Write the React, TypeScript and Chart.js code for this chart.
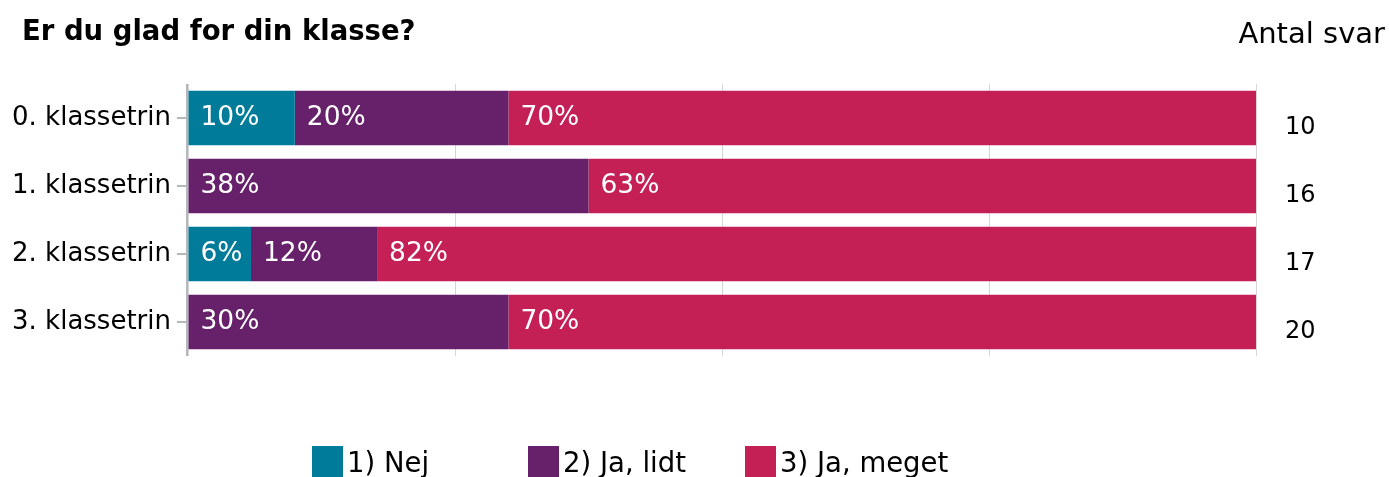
import React, { useEffect, useRef } from "react";
import { Chart, registerables } from "chart.js";

Chart.register(...registerables);

const categories = ["0. klassetrin", "1. klassetrin", "2. klassetrin", "3. klassetrin"];
const nejPct = [10, 0, 5.9, 0];
const lidtPct = [20, 37.5, 11.8, 30];
const megetPct = [70, 62.5, 82.3, 70];
const antalSvar = [10, 16, 17, 20];
const seriesNames = ["1) Nej", "2) Ja, lidt", "3) Ja, meget"];
const seriesColors = ["#007B9A", "#67206A", "#C42056"];
const titleText = "Er du glad for din klasse?";
const countHeader = "Antal svar";

const FONT = "'DejaVu Sans', Verdana, sans-serif";

const overlayPlugin = {
  id: "overlay",
  afterDatasetsDraw(chart: any) {
    const { ctx, chartArea } = chart;
    const yScale = chart.scales.y;
    ctx.save();
    // title
    ctx.fillStyle = "#000";
    ctx.font = `bold 27.5px ${FONT}`;
    ctx.textAlign = "left";
    ctx.textBaseline = "alphabetic";
    ctx.fillText(titleText, 22, 40);
    ctx.font = `29px ${FONT}`;
    ctx.textAlign = "right";
    ctx.fillText(countHeader, 1385, 43);

    // axis line
    ctx.strokeStyle = "#b3b8bc";
    ctx.lineWidth = 2;
    ctx.beginPath();
    ctx.moveTo(chartArea.left - 1, chartArea.top);
    ctx.lineTo(chartArea.left - 1, chartArea.bottom);
    ctx.stroke();

    categories.forEach((c, i) => {
      const y = yScale.getPixelForValue(i);
      ctx.beginPath();
      ctx.moveTo(chartArea.left - 11, y);
      ctx.lineTo(chartArea.left - 1, y);
      ctx.stroke();
      ctx.fillStyle = "#000";
      ctx.font = `26px ${FONT}`;
      ctx.textAlign = "right";
      ctx.textBaseline = "middle";
      ctx.fillText(c, chartArea.left - 17, y);
      ctx.textAlign = "left";
      ctx.font = `24px ${FONT}`;
      ctx.fillText(String(antalSvar[i]), chartArea.right + 29, y + 9.5);
    });

    // percent labels
    chart.data.datasets.forEach((ds: any, di: number) => {
      const meta = chart.getDatasetMeta(di);
      meta.data.forEach((el: any, i: number) => {
        const v = ds.data[i];
        if (!v) return;
        const { base, x, y } = el.getProps(["base", "x", "y"], true);
        ctx.fillStyle = "#fff";
        ctx.font = `26.5px ${FONT}`;
        ctx.textAlign = "left";
        ctx.textBaseline = "middle";
        ctx.fillText(Math.round(v) + "%", Math.min(base, x) + 12, y);
      });
    });

    // legend
    const legendX = [312, 528, 745];
    seriesNames.forEach((n, i) => {
      ctx.fillStyle = seriesColors[i];
      ctx.fillRect(legendX[i], 446, 31, 34);
      ctx.fillStyle = "#000";
      ctx.font = `27.5px ${FONT}`;
      ctx.textAlign = "left";
      ctx.textBaseline = "middle";
      ctx.fillText(n, legendX[i] + 35, 465);
    });
    ctx.restore();
  },
};

export default function App() {
  const ref = useRef<HTMLCanvasElement>(null);
  useEffect(() => {
    if (!ref.current) return;
    const chart = new Chart(ref.current, {
      type: "bar",
      data: {
        labels: categories,
        datasets: [nejPct, lidtPct, megetPct].map((d, i) => ({
          label: seriesNames[i],
          data: d,
          backgroundColor: seriesColors[i],
          borderWidth: 0,
          categoryPercentage: 1,
          barPercentage: 0.8,
        })),
      },
      options: {
        indexAxis: "y",
        responsive: false,
        animation: false,
        layout: { padding: { left: 188, right: 133, top: 84, bottom: 121 } },
        scales: {
          x: {
            stacked: true,
            min: 0,
            max: 100,
            ticks: { display: false, stepSize: 25 },
            grid: { color: "#d6d6d6", drawTicks: false, lineWidth: 1 },
            border: { display: false },
          },
          y: { stacked: true, display: false },
        },
        plugins: { legend: { display: false }, tooltip: { enabled: false }, title: { display: false } },
      },
      plugins: [overlayPlugin],
    });
    return () => chart.destroy();
  }, []);
  return (
    <div style={{ position: "absolute", left: 0, top: 0, width: 1389, height: 477, background: "#fff" }}>
      <canvas ref={ref} width={1389} height={477} style={{ display: "block" }} />
    </div>
  );
}
